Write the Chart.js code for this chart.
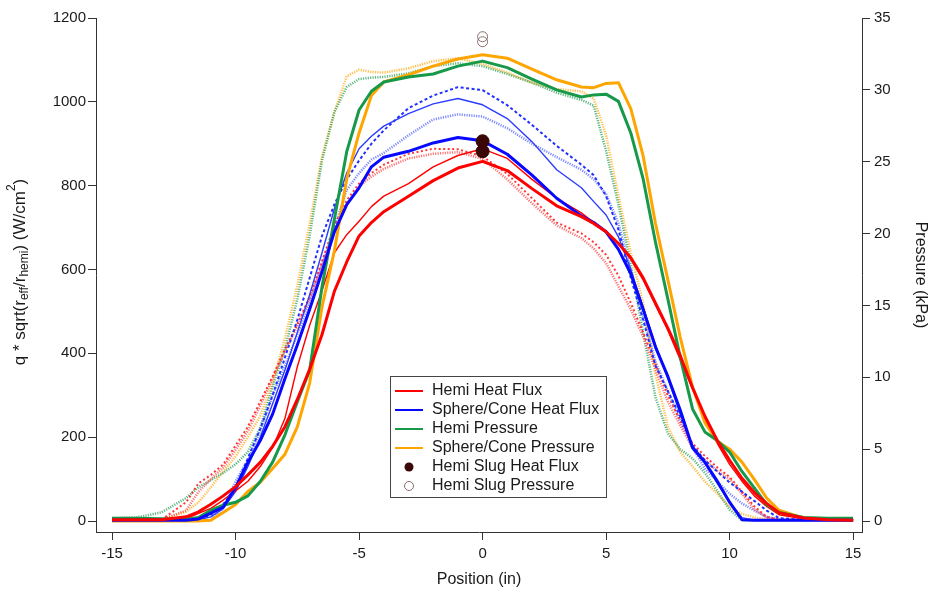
<!DOCTYPE html>
<html>
<head>
<meta charset="utf-8">
<script src="https://cdn.jsdelivr.net/npm/chart.js@4.4.1/dist/chart.umd.min.js"></script>
<style>
  html, body { margin: 0; padding: 0; background: #fff; }
  #wrap { width: 932px; height: 591px; }
</style>
</head>
<body>
<div id="wrap"><canvas id="chart" width="932" height="591"></canvas></div>
<script>
/* global Chart */

// position along the model (in)
const position = [-15, -14, -13, -12, -11.5, -11, -10.5, -10, -9.5, -9, -8.5, -8, -7.5, -7, -6.5, -6, -5.5, -5, -4.5, -4,
    -3, -2, -1, 0, 1, 2, 3, 4,
    4.5, 5, 5.5, 6, 6.5, 7, 7.5, 8, 8.5, 9, 9.5, 10, 10.5, 11, 11.5, 12,
    13, 14, 15];

// heat flux, W/cm^2 (left axis)
const hemiFluxA = [3, 3, 3, 10, 22, 40, 60, 82, 110, 140, 178, 225, 290, 362, 445, 548, 618, 680, 712, 738,
    775, 812, 842, 858, 836, 793, 752, 726,
    710, 690, 662, 628, 580, 520, 460, 395, 318, 250, 192, 145, 102, 68, 42, 20,
    7, 3, 2];
const hemiFluxB = [3, 3, 3, 5, 18, 30, 50, 72, 95, 130, 175, 245, 368, 467, 550, 640, 683, 715, 750, 775,
    805, 845, 872, 888, 865, 815, 770, 735,
    712, 690, 662, 625, 575, 515, 455, 385, 315, 245, 185, 135, 95, 60, 35, 15,
    5, 2, 2];
const hemiFluxC = [3, 3, 3, 45, 90, 110, 135, 180, 225, 285, 345, 410, 470, 535, 620, 705, 765, 805, 830, 850,
    876, 888, 887, 870, 828, 770, 712, 686,
    665, 635, 585, 520, 450, 375, 300, 240, 185, 155, 128, 105, 70, 35, 10, 3,
    3, 3, 3];
const hemiFluxD = [3, 3, 3, 25, 70, 100, 128, 170, 215, 275, 340, 405, 465, 530, 610, 690, 755, 798, 822, 840,
    865, 876, 880, 864, 815, 758, 705, 675,
    650, 615, 560, 505, 440, 362, 285, 228, 175, 145, 120, 100, 65, 28, 8, 3,
    3, 3, 3];
const coneFluxA = [2, 2, 2, 2, 5, 19, 33, 80, 140, 192, 255, 340, 420, 505, 595, 690, 755, 795, 845, 868,
    882, 902, 915, 907, 875, 825, 770, 728,
    712, 690, 648, 590, 505, 415, 345, 265, 175, 140, 95, 45, 3, 2, 2, 2,
    2, 2, 2];
const coneFluxB = [2, 2, 2, 2, 3, 10, 30, 70, 130, 200, 280, 360, 450, 540, 640, 745, 830, 888, 918, 942,
    972, 995, 1008, 993, 960, 905, 838, 795,
    762, 730, 678, 600, 510, 420, 340, 255, 180, 140, 90, 45, 8, 2, 2, 2,
    2, 2, 2];
const coneFluxC = [2, 2, 2, 2, 5, 15, 40, 80, 150, 220, 300, 390, 480, 580, 680, 755, 815, 860, 900, 932,
    985, 1015, 1035, 1028, 992, 945, 895, 850,
    825, 775, 695, 580, 480, 370, 310, 250, 180, 145, 118, 92, 70, 48, 25, 7,
    3, 3, 3];
const coneFluxD = [2, 2, 2, 2, 2, 2, 30, 95, 145, 215, 300, 370, 445, 520, 610, 700, 790, 830, 862, 878,
    920, 958, 970, 965, 937, 900, 868, 838,
    815, 780, 710, 595, 490, 380, 310, 240, 175, 125, 95, 65, 42, 25, 10, 4,
    2, 2, 2];

// pressure, kPa (right axis)
const hemiPressA = [0.2, 0.2, 0.15, 0.1, 0.25, 0.75, 1.1, 1.3, 1.75, 2.75, 4.1, 6.0, 8.3, 10.5, 16.3, 21.0, 25.7, 28.6, 29.9, 30.55,
    30.9, 31.1, 31.65, 32.0, 31.55, 30.75, 30.0, 29.5,
    29.65, 29.7, 29.2, 27.0, 23.8, 19.4, 15.45, 11.4, 7.8, 6.2, 5.6, 4.8, 3.45, 2.3, 1.15, 0.6,
    0.25, 0.2, 0.2];
const hemiPressB = [0.2, 0.25, 0.6, 1.6, 2.35, 2.85, 3.35, 3.95, 4.8, 6.5, 9.35, 11.95, 15.45, 19.85, 25.1, 28.45, 30.2, 30.75, 30.85, 30.9,
    31.15, 31.65, 31.85, 31.65, 31.1, 30.5, 29.8, 29.3,
    28.9, 25.75, 22.0, 17.8, 13.1, 8.6, 6.1, 5.0, 4.35, 3.35, 2.1, 0.8, 0.05, 0.05, 0.05, 0.05,
    0.05, 0.05, 0.05];
const conePressA = [0, 0, 0, 0, 0, 0.05, 0.6, 1.15, 2.05, 2.7, 3.65, 4.65, 6.55, 9.6, 14.9, 18.8, 23.8, 27.0, 29.6, 30.55,
    31.05, 31.65, 32.15, 32.45, 32.2, 31.45, 30.7, 30.2,
    30.15, 30.45, 30.5, 28.7, 25.4, 20.7, 16.8, 12.8, 9.3, 6.85, 5.55, 5.0, 4.1, 2.9, 1.6, 0.75,
    0.2, 0.1, 0.05];
const conePressB = [0.05, 0.05, 0.1, 0.65, 1.3, 2.35, 3.45, 4.5, 5.85, 7.3, 9.6, 12.7, 16.35, 20.7, 25.35, 28.45, 30.95, 31.4, 31.25, 31.2,
    31.5, 32.0, 32.2, 31.8, 31.2, 30.5, 30.05, 29.9,
    29.4, 26.85, 22.6, 18.65, 15.15, 10.2, 6.55, 4.8, 3.8, 2.75, 1.9, 1.0, 0.5, 0.25, 0.1, 0.05,
    0.05, 0.05, 0.05];

// slug gauges at the stagnation point
const slugPosition = [0, 0];
const slugHeatFlux = [906, 882];
const slugPressure = [33.7, 33.35];

const positionTicks = [-15, -10, -5, 0, 5, 10, 15];
const fluxTicks = [0, 200, 400, 600, 800, 1000, 1200];
const pressureTicks = [0, 5, 10, 15, 20, 25, 30, 35];
const legendLabels = ["Hemi Heat Flux", "Sphere/Cone Heat Flux", "Hemi Pressure", "Sphere/Cone Pressure", "Hemi Slug Heat Flux", "Hemi Slug Pressure"];

const FONT = "'Liberation Sans', Arial, sans-serif";
const TEXT = "#1a1a1a";
const AXIS = "#333";
const RED = "#ff0000", BLUE = "#0808ff", GREEN = "#17994a", ORANGE = "#ffa500";
const SLUG = "#3a0606", SLUG_OPEN = "#8c6c6c";

const pts = (xs, ys) => xs.map((x, i) => ({ x, y: ys[i] }));

function series(label, values, axis, color, width, dash) {
    return {
        label, data: pts(position, values), yAxisID: axis,
        borderColor: color, borderWidth: width, borderDash: dash || [],
        borderCapStyle: "butt", borderJoinStyle: "round",
        pointRadius: 0, pointHoverRadius: 0, fill: false, tension: 0
    };
}

function slug(label, values, axis, fillColor, lineColor, radius) {
    return {
        label, data: pts(slugPosition, values), yAxisID: axis, showLine: false,
        pointRadius: radius, pointBackgroundColor: fillColor, pointBorderColor: lineColor,
        pointBorderWidth: 1, borderColor: lineColor
    };
}

// first dataset is drawn on top
const datasets = [
    slug("Hemi Slug Heat Flux", slugHeatFlux, "y", SLUG, SLUG, 6.5),
    slug("Hemi Slug Pressure", slugPressure, "y2", "rgba(255,255,255,0)", SLUG_OPEN, 5),
    series("Hemi Heat Flux", hemiFluxA, "y", RED, 3),
    series("Sphere/Cone Heat Flux", coneFluxA, "y", BLUE, 3),
    series("Hemi Pressure", hemiPressA, "y2", GREEN, 3),
    series("Sphere/Cone Pressure", conePressA, "y2", ORANGE, 3),
    series("Hemi Heat Flux 2", hemiFluxB, "y", RED, 1.4),
    series("Sphere/Cone Heat Flux 2", coneFluxB, "y", "#2a3cff", 1.4),
    series("Sphere/Cone Heat Flux 3", coneFluxC, "y", "#2030ff", 2, [3, 2.5]),
    series("Hemi Heat Flux 3", hemiFluxC, "y", "rgba(255,20,20,0.85)", 2, [2, 2.5]),
    series("Hemi Heat Flux 4", hemiFluxD, "y", "rgba(255,60,60,0.7)", 2.5, [1.2, 1.2]),
    series("Sphere/Cone Heat Flux 4", coneFluxD, "y", "rgba(70,90,255,0.7)", 2.5, [1.2, 1.2]),
    series("Hemi Pressure 2", hemiPressB, "y2", "rgba(40,160,90,0.75)", 2.5, [1.2, 1.2]),
    series("Sphere/Cone Pressure 2", conePressB, "y2", "rgba(255,175,30,0.8)", 2.5, [1.2, 1.2])
];

// left axis title with sub/superscripts, and the in-plot legend
const decorations = {
    id: "decorations",
    afterDraw(chart) {
        const ctx = chart.ctx;
        ctx.save();
        ctx.fillStyle = TEXT;
        ctx.textBaseline = "middle";

        const parts = [
            ["q * sqrt(r", 0], ["eff", 1], ["/r", 0], ["hemi", 1], [") (W/cm", 0], ["2", -1], [")", 0]
        ];
        const big = "17px " + FONT, small = "12px " + FONT;
        let total = 0;
        parts.forEach(([t, s]) => { ctx.font = s ? small : big; total += ctx.measureText(t).width; });
        ctx.translate(20, 272);
        ctx.rotate(-Math.PI / 2);
        let x = -total / 2;
        parts.forEach(([t, s]) => {
            ctx.font = s ? small : big;
            ctx.textAlign = "left";
            ctx.fillText(t, x, s === 1 ? 5 : s === -1 ? -8 : 0);
            x += ctx.measureText(t).width;
        });
        ctx.restore();

        // legend
        ctx.save();
        const bx = 390.5, by = 376.5, bw = 216, bh = 121;
        ctx.fillStyle = "#fff";
        ctx.fillRect(bx, by, bw, bh);
        ctx.strokeStyle = "#444";
        ctx.lineWidth = 1;
        ctx.strokeRect(bx, by, bw, bh);
        const colors = [RED, BLUE, GREEN, ORANGE];
        ctx.font = "16px " + FONT;
        ctx.textBaseline = "middle";
        ctx.textAlign = "left";
        legendLabels.forEach((label, i) => {
            const y = 391 + i * 19;
            if (i < 4) {
                ctx.strokeStyle = colors[i];
                ctx.lineWidth = 2;
                ctx.beginPath();
                ctx.moveTo(395, y);
                ctx.lineTo(423, y);
                ctx.stroke();
            } else if (i === 4) {
                ctx.fillStyle = SLUG;
                ctx.beginPath();
                ctx.arc(409, y, 4.5, 0, Math.PI * 2);
                ctx.fill();
            } else {
                ctx.strokeStyle = SLUG_OPEN;
                ctx.lineWidth = 1;
                ctx.beginPath();
                ctx.arc(409, y, 4.5, 0, Math.PI * 2);
                ctx.stroke();
            }
            ctx.fillStyle = TEXT;
            ctx.fillText(label, 432, y);
        });
        ctx.restore();
    }
};

const tickFont = { family: FONT, size: 15 };
const plainNumber = v => String(v);
const axisGrid = { display: true, drawOnChartArea: false, drawTicks: true, tickLength: 8, color: AXIS, tickColor: AXIS };
const axisBorder = { display: true, color: AXIS, width: 1 };

new Chart(document.getElementById("chart"), {
    type: "line",
    data: { datasets },
    options: {
        responsive: false,
        animation: false,
        devicePixelRatio: 1,
        layout: { padding: { top: 18, left: 0, right: 0, bottom: 0 } },
        plugins: { legend: { display: false }, tooltip: { enabled: false } },
        scales: {
            x: {
                type: "linear", min: -15.65, max: 15.36,
                afterBuildTicks: s => { s.ticks = positionTicks.map(v => ({ value: v })); },
                afterFit: s => { s.height = 59; },
                grid: axisGrid, border: axisBorder,
                ticks: { font: tickFont, color: TEXT, padding: 5, maxRotation: 0, callback: plainNumber },
                title: { display: true, text: "Position (in)", font: { family: FONT, size: 16 }, color: TEXT, padding: { top: 2, bottom: 2 } }
            },
            y: {
                type: "linear", position: "left", min: -26.2, max: 1200,
                afterBuildTicks: s => { s.ticks = fluxTicks.map(v => ({ value: v })); },
                afterFit: s => { s.width = 96; },
                grid: axisGrid, border: axisBorder,
                ticks: { font: tickFont, color: TEXT, padding: 2, callback: plainNumber }
            },
            y2: {
                type: "linear", position: "right", min: -26.2 * 35 / 1200, max: 35,
                afterBuildTicks: s => { s.ticks = pressureTicks.map(v => ({ value: v })); },
                afterFit: s => { s.width = 70; },
                grid: axisGrid, border: axisBorder,
                ticks: { font: tickFont, color: TEXT, padding: 4, callback: plainNumber },
                title: { display: true, text: "Pressure (kPa)", font: { family: FONT, size: 16 }, color: TEXT, padding: { top: 2, bottom: 4 } }
            }
        }
    },
    plugins: [decorations]
});
</script>
</body>
</html>
